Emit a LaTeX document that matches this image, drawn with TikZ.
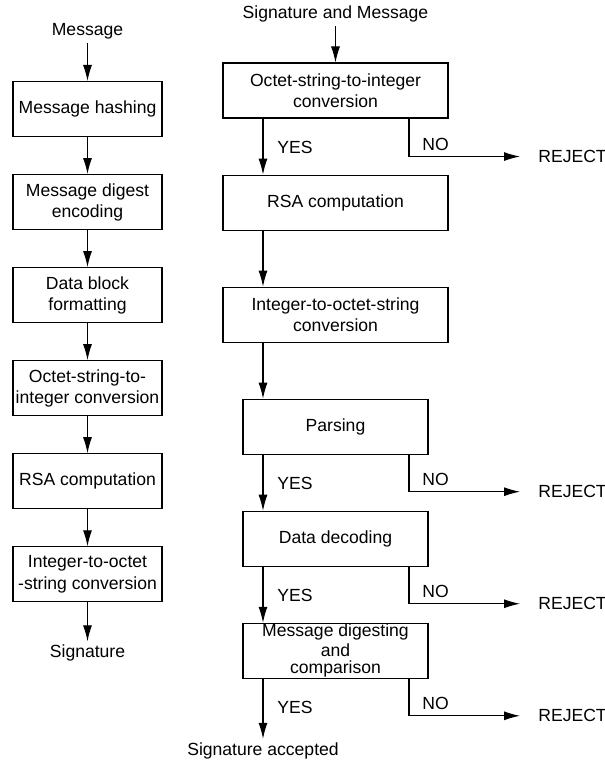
\documentclass[tikz,border=0pt]{standalone}
\usepackage{fontspec}
\setmainfont{Liberation Sans}
\usetikzlibrary{arrows.meta, positioning, calc}
\tikzset{
    box/.style={rectangle, draw, line width=0.6pt, minimum width=2.98cm, minimum height=1.1cm, inner xsep=1pt, align=center},
    arrow/.style={line width=0.6pt, -{Latex[length=0.32cm, width=0.18cm]}}
}

\begin{document}
\begin{tikzpicture}[node distance=0.74cm,
    wbox/.style={box, minimum width=4.5cm},
    nbox/.style={box, minimum width=3.7cm},
    lbl/.style={inner sep=2pt},
    rej/.style={anchor=west, inner xsep=0.36cm, inner ysep=2pt}]

    \useasboundingbox (0,0) rectangle (12.1,-15.24);

    % signing
    \node (g0) [box] at (1.75,-2.18) {Message hashing};
    \node (g1) [box, below=of g0] {Message digest\\encoding};
    \node (g2) [box, below=of g1] {Data block\\formatting};
    \node (g3) [box, below=of g2] {Octet-string-to-\\integer conversion};
    \node (g4) [box, below=of g3] {RSA computation};
    \node (g5) [box, below=of g4] {Integer-to-octet\\-string conversion};
    \node (msg) [lbl, above=0.75cm of g0] {Message};
    \node (sig) [lbl, below=0.78cm of g5] {Signature};

    \draw [arrow] (msg) -- (g0);
    \draw [arrow] (g0) -- (g1);
    \draw [arrow] (g1) -- (g2);
    \draw [arrow] (g2) -- (g3);
    \draw [arrow] (g3) -- (g4);
    \draw [arrow] (g4) -- (g5);
    \draw [arrow] (g5) -- (sig);

    % verification
    \coordinate (yx) at (5.26,0);
    \coordinate (nx) at (8.18,0);
    \node (v0) [wbox] at (6.71,-1.81) {Octet-string-to-integer\\conversion};
    \node (v1) [wbox, below=1.12cm of v0] {RSA computation};
    \node (v2) [wbox, below=1.12cm of v1] {Integer-to-octet-string\\conversion};
    \node (v3) [nbox, below=1.12cm of v2] {Parsing};
    \node (v4) [nbox, below=1.12cm of v3] {Data decoding};
    \node (v5) [nbox, below=1.12cm of v4, inner ysep=0pt] {Message digesting\\[-1pt]and\\[-2pt]comparison};
    \node (sm) [lbl, above=0.72cm of v0] {Signature and Message};
    \node (acc) [lbl, anchor=north] at ($(v5.south -| yx)+(0,-1.2)$) {Signature accepted};

    \node (r0) [rej] at ($(v0.south -| nx)+(2.22,-0.76)$) {REJECT};
    \node (r1) [rej] at ($(v3.south -| nx)+(2.22,-0.74)$) {REJECT};
    \node (r2) [rej] at ($(v4.south -| nx)+(2.22,-0.74)$) {REJECT};
    \node (r3) [rej] at ($(v5.south -| nx)+(2.22,-0.74)$) {REJECT};

    \node (y0) [lbl, anchor=west] at ($(v0.south -| yx)+(0.21,-0.58)$) {YES};
    \node (y1) [lbl, anchor=west] at ($(v3.south -| yx)+(0.21,-0.58)$) {YES};
    \node (y2) [lbl, anchor=west] at ($(v4.south -| yx)+(0.21,-0.58)$) {YES};
    \node (y3) [lbl, anchor=west] at ($(v5.south -| yx)+(0.21,-0.58)$) {YES};
    \node (n0) [lbl, anchor=west] at ($(v0.south -| nx)+(0.19,-0.52)$) {NO};
    \node (n1) [lbl, anchor=west] at ($(v3.south -| nx)+(0.19,-0.5)$) {NO};
    \node (n2) [lbl, anchor=west] at ($(v4.south -| nx)+(0.19,-0.5)$) {NO};
    \node (n3) [lbl, anchor=west] at ($(v5.south -| nx)+(0.19,-0.5)$) {NO};

    \draw [arrow] (sm) -- (v0);
    \draw [arrow] (v0.south -| yx) -- (v1.north -| yx);
    \draw [arrow] (v1.south -| yx) -- (v2.north -| yx);
    \draw [arrow] (v2.south -| yx) -- (v3.north -| yx);
    \draw [arrow] (v3.south -| yx) -- (v4.north -| yx);
    \draw [arrow] (v4.south -| yx) -- (v5.north -| yx);
    \draw [arrow] (v5.south -| yx) -- (acc);

    \draw [arrow] (v0.south -| nx) |- (r0.west);
    \draw [arrow] (v3.south -| nx) |- (r1.west);
    \draw [arrow] (v4.south -| nx) |- (r2.west);
    \draw [arrow] (v5.south -| nx) |- (r3.west);
\end{tikzpicture}
\end{document}
